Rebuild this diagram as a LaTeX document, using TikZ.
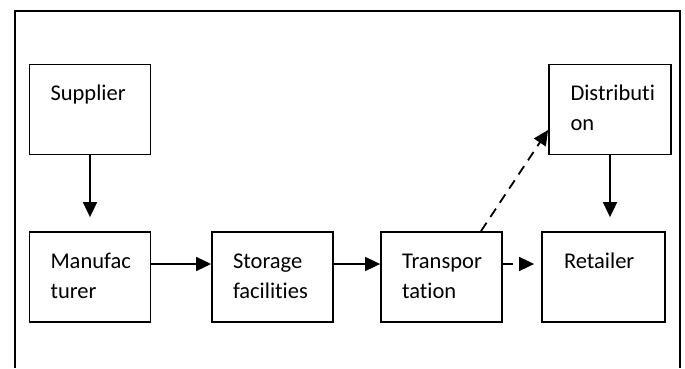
\documentclass[tikz,border=0pt]{standalone}
\usepackage{fontspec}
\setmainfont{Carlito}[Ligatures=NoCommon]
\usetikzlibrary{arrows.meta}
\def\stagetext#1{\parbox[t][60pt][t]{79pt}{\raggedright\strut #1}}

\begin{document}
\begin{tikzpicture}[x=1pt, y=1pt,
		stage/.style={draw, line width=1.8pt, inner xsep=20pt, inner ysep=15pt,
			minimum width=121pt, font=\fontsize{22.5}{30}\selectfont},
		flow/.style={line width=1.8pt, -{Triangle[length=15pt, width=14pt]}},
		dashflow/.style={flow, dash pattern=on 10pt off 7pt}]
		%%%%% START %%%%%
		\useasboundingbox (0, 0) rectangle (685, 368);
		
		\draw[line width=1.9pt] (15, 0) -- (15, 357) -- (680, 357) -- (680, 0);
		
		\node[stage] (sup) at (90, 258.5) {\stagetext{Supplier}};
		\node[stage] (man) at (90, 91) {\stagetext{Manufac\\turer}};
		\node[stage] (sto) at (272.5, 91) {\stagetext{Storage\\facilities}};
		\node[stage] (tra) at (441.5, 91) {\stagetext{Transpor\\tation}};
		\node[stage, minimum width=123pt] (ret) at (603.5, 91) {\stagetext{Retailer}};
		\node[stage, minimum width=122pt] (dis) at (610, 258.5) {\stagetext{Distributi\\on}};
		
		\draw[flow, shorten >=14pt] (sup.south) -- (man.north);
		\draw[flow] ([yshift=13pt]man.east) -- ([yshift=13pt]sto.west);
		\draw[flow] ([yshift=13pt]sto.east) -- ([yshift=13pt]tra.west);
		\draw[dashflow, dash pattern=on 10pt off 8pt, shorten >=7pt] ([yshift=13pt]tra.east) -- ([yshift=13pt]ret.west);
		\draw[dashflow] ([xshift=39.5pt]tra.north) -- ([yshift=-20.5pt]dis.west);
		\draw[flow, shorten >=14pt] (dis.south) -- (dis.south |- ret.north);
		
		%%%%% END %%%%%
\end{tikzpicture}
\end{document}
